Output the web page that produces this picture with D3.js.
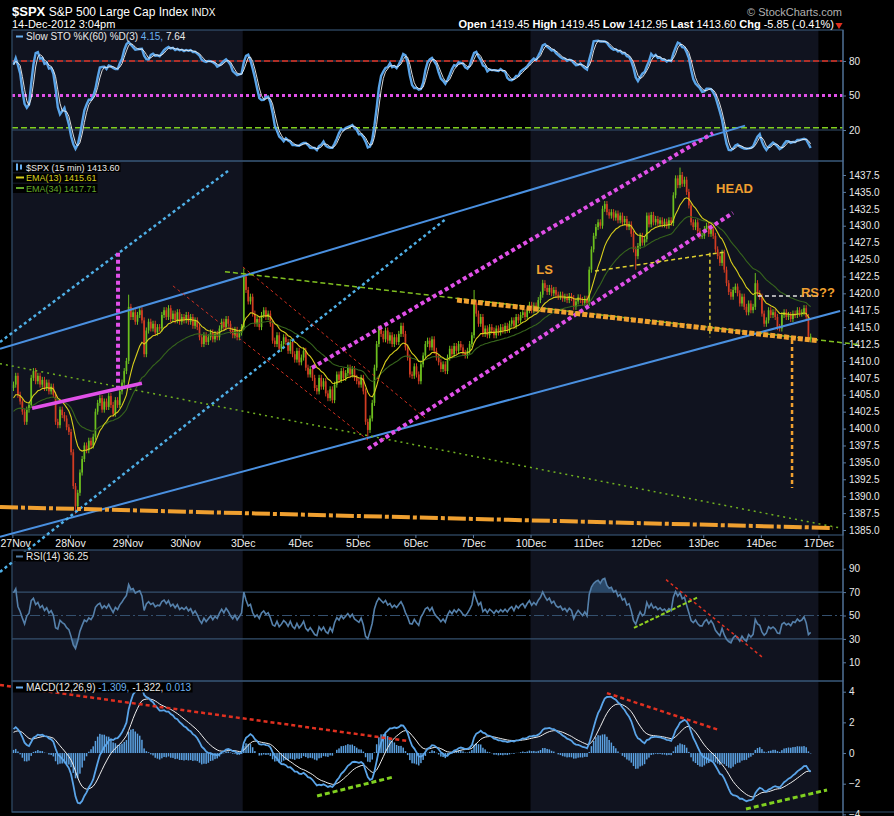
<!DOCTYPE html>
<html>
<head>
<meta charset="utf-8">
<script src="https://cdn.jsdelivr.net/npm/d3@7"></script>
<style>
  body { margin: 0; background: #000; }
  svg { display: block; font-family: "Liberation Sans", Arial, sans-serif; }
</style>
</head>
<body>
<svg width="894" height="816"></svg>
<script>
// Sessions on the time axis (17Dec is only the last tick)
const dayLabels = ['27Nov', '28Nov', '29Nov', '30Nov', '3Dec', '4Dec', '5Dec', '6Dec', '7Dec',
    '10Dec', '11Dec', '12Dec', '13Dec', '14Dec', '17Dec'];
const barsPerDay = 26;
// weeks with the dark blue backdrop, as [first day, end day]
const shadedDays = [[0, 4], [9, 14]];

const nov27 = [1406.5, 1407.8, 1405.0, 1404.0, 1402.5, 1401.0, 1402.8, 1403.5, 1407.5, 1408.5, 1407.0, 1407.8, 1406.5,
    1407.2, 1406.0, 1406.8, 1405.5, 1406.2, 1405.0, 1401.0, 1400.5, 1402.8, 1402.0, 1401.5, 1400.2, 1399.5];
const nov28 = [1396.5, 1391.5, 1388.5, 1390.5, 1393.5, 1395.5, 1397.5, 1396.8, 1398.2, 1397.5, 1398.8, 1402.5, 1403.8,
    1404.5, 1402.8, 1404.0, 1403.2, 1404.8, 1403.5, 1402.2, 1404.2, 1403.5, 1405.5, 1406.8, 1408.5, 1410.0];
const nov29 = [1418.0, 1416.5, 1417.2, 1415.8, 1416.8, 1417.5, 1416.0, 1411.0, 1414.5, 1415.8, 1414.8, 1415.5, 1414.2,
    1415.0, 1414.8, 1416.8, 1417.5, 1416.5, 1417.8, 1416.2, 1417.0, 1416.0, 1417.2, 1415.8, 1416.5, 1416.0];
const nov30 = [1416.8, 1415.8, 1416.5, 1415.2, 1416.0, 1415.0, 1413.5, 1412.5, 1413.8, 1412.8, 1413.5, 1414.2, 1413.2,
    1414.0, 1413.5, 1414.8, 1415.8, 1415.0, 1416.2, 1415.5, 1414.5, 1413.8, 1414.6, 1413.5, 1414.2, 1415.0];
const dec3 = [1422.5, 1420.5, 1418.8, 1419.5, 1417.0, 1415.5, 1416.2, 1415.0, 1416.8, 1417.5, 1416.5, 1417.0, 1415.5,
    1413.0, 1412.5, 1413.8, 1411.8, 1412.5, 1413.5, 1412.8, 1411.5, 1412.8, 1411.0, 1410.2, 1411.5, 1409.8];
const dec4 = [1410.5, 1411.5, 1409.0, 1408.0, 1408.8, 1407.5, 1406.0, 1405.5, 1407.5, 1406.2, 1407.0, 1405.2, 1404.5,
    1405.8, 1404.2, 1406.5, 1408.0, 1407.2, 1408.5, 1407.5, 1408.2, 1409.0, 1408.0, 1408.8, 1407.5, 1407.0];
const dec5 = [1406.5, 1407.5, 1405.5, 1401.0, 1399.8, 1401.5, 1403.8, 1409.0, 1412.5, 1414.8, 1414.0, 1413.2, 1414.5,
    1413.0, 1413.8, 1412.5, 1413.5, 1412.8, 1414.0, 1415.2, 1414.0, 1412.0, 1410.5, 1408.0, 1407.8, 1409.2];
const dec6 = [1408.0, 1407.0, 1409.5, 1410.8, 1412.5, 1413.0, 1412.0, 1413.2, 1411.5, 1410.5, 1409.8, 1408.8, 1409.5,
    1408.5, 1410.5, 1411.8, 1411.0, 1412.2, 1411.5, 1412.5, 1412.0, 1411.2, 1410.8, 1411.5, 1412.5, 1413.8];
const dec7 = [1418.5, 1417.0, 1415.5, 1416.5, 1414.0, 1414.8, 1413.8, 1415.0, 1414.5, 1413.8, 1414.8, 1414.2, 1415.0,
    1414.5, 1415.2, 1414.6, 1415.5, 1416.0, 1415.2, 1416.5, 1416.0, 1416.8, 1417.2, 1416.5, 1417.5, 1418.3];
const dec10 = [1417.5, 1418.2, 1417.8, 1419.0, 1419.8, 1421.5, 1420.8, 1420.2, 1420.8, 1420.0, 1420.5, 1419.8, 1419.5,
    1419.8, 1419.2, 1419.5, 1419.0, 1419.6, 1419.3, 1418.0, 1418.8, 1419.4, 1419.0, 1418.6, 1419.2, 1418.6];
const dec11 = [1423.5, 1426.5, 1428.5, 1429.8, 1430.5, 1430.0, 1432.5, 1433.2, 1432.0, 1431.5, 1432.0, 1431.2, 1431.8,
    1430.8, 1431.5, 1430.5, 1431.0, 1429.8, 1430.2, 1428.8, 1426.5, 1425.5, 1427.0, 1428.5, 1427.5, 1428.0];
const dec12 = [1431.5, 1430.2, 1431.6, 1430.5, 1431.0, 1430.3, 1430.8, 1430.2, 1430.6, 1430.0, 1430.8, 1430.4, 1434.5,
    1437.0, 1436.0, 1437.5, 1436.2, 1436.8, 1435.0, 1433.0, 1430.5, 1429.8, 1430.5, 1429.2, 1428.5, 1428.5];
const dec13 = [1429.5, 1430.0, 1428.8, 1429.5, 1428.5, 1426.5, 1425.5, 1424.5, 1426.0, 1423.5, 1421.5, 1420.2, 1419.5,
    1420.5, 1421.0, 1420.0, 1418.5, 1419.5, 1418.0, 1417.2, 1418.5, 1417.5, 1418.0, 1421.5, 1420.0, 1419.5];
const dec14 = [1417.0, 1415.5, 1416.0, 1417.5, 1416.8, 1417.2, 1416.5, 1415.0, 1414.8, 1416.8, 1417.2, 1416.5, 1416.8,
    1416.2, 1417.0, 1416.8, 1417.5, 1417.0, 1417.2, 1417.8, 1416.5, 1413.2, 1413.6];
const sessions = [nov27, nov28, nov29, nov30, dec3, dec4, dec5, dec6, dec7, dec10, dec11, dec12, dec13, dec14];
const firstOpen = 1406.0;
// long wicks that stand out, [bar, price]
const highMarks = [[52, 1419.8], [104, 1423.7], [208, 1420.5], [239, 1422.0], [301, 1438.6], [335, 1423.0]];
const lowMarks = [[28, 1387.4], [160, 1398.8], [281, 1423.5], [359, 1412.95]];

// indicator values carried in from before the first bar (left edge of each panel)
const ema13Start = 1404.2, ema34Start = 1402.3;
const ema12Start = 1404.4, ema26Start = 1402.9, signalStart = 1.3;
const rsiGainStart = 0.55, rsiLossStart = 0.26;
const stoHighBefore = 1409.2, stoLowBefore = 1397.5;

// tick labels
const priceTicks = [1385, 1387.5, 1390, 1392.5, 1395, 1397.5, 1400, 1402.5, 1405, 1407.5, 1410, 1412.5, 1415,
    1417.5, 1420, 1422.5, 1425, 1427.5, 1430, 1432.5, 1435, 1437.5];
const stoTicks = [80, 50, 20];
const rsiTicks = [90, 70, 50, 30, 10];
const macdTicks = [4, 2, 0, -2, -4];

// legend and header texts as printed on the chart
const quote = [['Open', '1419.45'], ['High', '1419.45'], ['Low', '1412.95'], ['Last', '1413.60'], ['Chg', '-5.85 (-0.41%)']];
const stoLegend = ['4.15,', '7.64'];
const priceLegend = ['$SPX (15 min) 1413.60', 'EMA(13) 1415.61', 'EMA(34) 1417.71'];
const rsiLegend = 'RSI(14) 36.25';
const macdLegend = ['-1.309,', '-1.322,', '0.013'];

// drawn trendlines, [style, [bar, value], [bar, value]]
const priceMarks = [
    ['channel', [-5.6, 1411.8], [330.9, 1444.8]],
    ['channel', [-5.6, 1384.0], [373.8, 1417.4]],
    ['cyanDot', [-5.6, 1412.8], [97.4, 1438.1]],
    ['cyanDot', [-5.6, 1378.8], [195.4, 1430.9]],
    ['redThin', [72.5, 1421.1], [160.6, 1398.3]],
    ['redThin', [104.1, 1423.9], [186.3, 1401.6]],
    ['greenDot', [-5.6, 1409.6], [373.8, 1385.3]],
    ['greenDash', [96.0, 1423.2], [382.8, 1412.4]],
    ['magentaDot', [47.7, 1426.0], [47.7, 1406.0]],
    ['magenta', [8.9, 1403.0], [58.5, 1406.7]],
    ['magentaDot', [135.3, 1409.0], [316.4, 1443.7]],
    ['magentaDot', [160.6, 1397.0], [325.4, 1431.9]],
    ['neck', [200.8, 1419.0], [363.8, 1413.0]],
    ['orangeDot', [352.1, 1413.1], [352.1, 1391.2]],
    ['orangeDashDot', [-5.6, 1388.4], [370.6, 1385.3]],
    ['yellowDash', [263.1, 1423.3], [321.8, 1426.1]],
    ['yellowDash', [315.0, 1426.0], [315.0, 1413.5]],
    ['whiteDash', [336.7, 1419.6], [363.8, 1419.6]]
];
const rsiMarks = [
    ['limeThin', [280.7, 39.4], [309.2, 65.2]],
    ['redThinDash', [295.2, 80.6], [338.6, 14.5]]
];
const macdMarks = [
    ['redDash', [-5.6, 4.44], [178.7, 0.78]],
    ['redDash', [268.5, 3.91], [319.1, 1.5]],
    ['limeDash', [137.6, -2.80], [171.9, -1.57]],
    ['limeDash', [331.3, -3.65], [367.9, -2.41]]
];
const patternLabels = [['LS', 236.6, 1422.9], ['HEAD', 317.8, 1434.8], ['RS??', 356.1, 1419.5]];
// user level lines on the stochastic
const stoLevels = [['redDash80', 80], ['magentaLevel', 50], ['greenLevel', 22]];

const lineStyles = {
    channel: ['#4a90e0', 2, null],
    cyanDot: ['#4fb0e8', 2.5, '3,3'],
    magentaDot: ['#e050e8', 4, '4,3'],
    magenta: ['#e050e8', 3.5, null],
    redThin: ['#d03020', 1, '3,3'],
    greenDot: ['#70b020', 1.5, '2,4'],
    greenDash: ['#80c020', 1.5, '5,3'],
    neck: ['#f0a030', 5, '5,2'],
    orangeDot: ['#f0a030', 2.5, '4,3'],
    orangeDashDot: ['#f0a030', 4, '18,3,4,3'],
    yellowDash: ['#e0d030', 1.5, '4,3'],
    whiteDash: ['#e0e0e0', 1.5, '4,3'],
    redDash: ['#e03020', 2.5, '4,3'],
    limeDash: ['#80d020', 3, '5,3'],
    redThinDash: ['#e03020', 1.5, '3,3'],
    limeThin: ['#90d020', 2, '4,2'],
    redDash80: ['#e03020', 1.5, '6,3'],
    magentaLevel: ['#e050e8', 3, '3,3'],
    greenLevel: ['#80d020', 1.5, '6,3']
};

//Select svg element that is our canvas
const svg = d3.select('svg');
const width = +svg.attr('width');
const height = +svg.attr('height');

const left = 12, right = 843;
const stoTop = 30, priceTop = 161, priceBottom = 535, rsiTop = 550, macdTop = 681, macdBottom = 812;
const frameColor = '#34506e';

svg.append('rect').attr('width', width).attr('height', height).attr('fill', '#000');

// scales
const x = d3.scaleLinear().domain([0, (dayLabels.length - 1) * barsPerDay]).range([12.4, 818.4]);
const yPrice = d3.scaleLinear().domain([1385, 1437.5]).range([530, 175]);
const ySto = d3.scaleLinear().domain([20, 80]).range([130, 61]);
const yRsi = d3.scaleLinear().domain([10, 90]).range([662.3, 568.7]);
const yMacd = d3.scaleLinear().domain([-2, 4]).range([783.7, 691.7]);

// bars
const closes = sessions.flat();
const bars = closes.map((c, i) => {
    const o = i ? closes[i - 1] : firstOpen;
    return {i, o, c, h: Math.max(o, c) + 0.45, l: Math.min(o, c) - 0.45};
});
highMarks.forEach(([i, v]) => bars[i].h = v);
lowMarks.forEach(([i, v]) => bars[i].l = v);

// indicators
function ema(values, period, start) {
    const k = 2 / (period + 1);
    let prev = start;
    return values.map(v => prev = prev + k * (v - prev));
}
const ema13 = ema(closes, 13, ema13Start);
const ema34 = ema(closes, 34, ema34Start);
const macd = d3.zip(ema(closes, 12, ema12Start), ema(closes, 26, ema26Start)).map(([a, b]) => a - b);
const signal = ema(macd, 9, signalStart);
const hist = macd.map((m, i) => m - signal[i]);

let avgGain = rsiGainStart, avgLoss = rsiLossStart;
const rsi = bars.map(b => {
    const ch = b.c - b.o;
    avgGain = (avgGain * 13 + Math.max(ch, 0)) / 14;
    avgLoss = (avgLoss * 13 + Math.max(-ch, 0)) / 14;
    return 100 - 100 / (1 + avgGain / avgLoss);
});

const fastK = bars.map((b, i) => {
    let hh = i < 59 ? stoHighBefore : -Infinity;
    let ll = i < 59 ? stoLowBefore : Infinity;
    for (let j = Math.max(0, i - 59); j <= i; j++) {
        hh = Math.max(hh, bars[j].h);
        ll = Math.min(ll, bars[j].l);
    }
    return 100 * (b.c - ll) / (hh - ll);
});
const sma3 = a => a.map((v, i) => d3.mean(a.slice(Math.max(0, i - 2), i + 1)));
const slowK = sma3(fastK);
const pctD = sma3(slowK);

// week backdrops
const bandG = svg.append('g');
shadedDays.forEach(([a, b]) => {
    [[stoTop, priceBottom], [rsiTop, macdBottom]].forEach(([t, bt]) => {
        bandG.append('rect')
            .attr('x', Math.max(left, x(a * barsPerDay)))
            .attr('width', x(b * barsPerDay) - Math.max(left, x(a * barsPerDay)))
            .attr('y', t).attr('height', bt - t)
            .attr('fill', '#10131f');
    });
});

// clip paths for each panel
const defs = svg.append('defs');
const panels = {sto: [stoTop, priceTop], price: [priceTop, priceBottom], rsi: [rsiTop, macdTop], macd: [macdTop, macdBottom]};
Object.entries(panels).forEach(([k, [t, b]]) => {
    defs.append('clipPath').attr('id', 'clip-' + k)
        .append('rect').attr('x', left).attr('y', t).attr('width', right - left).attr('height', b - t);
});
const plot = k => svg.append('g').attr('clip-path', `url(#clip-${k})`);

// grid lines
const gridG = svg.append('g');
[ySto(80), ySto(20), yRsi(70), yRsi(30)].forEach(y => {
    gridG.append('line').attr('x1', left).attr('x2', right).attr('y1', y).attr('y2', y)
        .attr('stroke', frameColor).attr('stroke-width', 1.2);
});
gridG.append('line').attr('x1', left).attr('x2', right).attr('y1', yRsi(50)).attr('y2', yRsi(50))
    .attr('stroke', frameColor).attr('stroke-dasharray', '10,3,2,3');

function styled(sel, name) {
    const [stroke, w, dash] = lineStyles[name];
    sel.attr('stroke', stroke).attr('stroke-width', w).attr('fill', 'none');
    if (dash) sel.attr('stroke-dasharray', dash);
    return sel;
}

stoLevels.forEach(([name, v]) => {
    styled(gridG.append('line').attr('x1', left).attr('x2', right).attr('y1', ySto(v)).attr('y2', ySto(v)), name);
});

// stochastic
const stoG = plot('sto');
const lineOf = (vals, y) => d3.line().x((d, i) => x(i + 0.5)).y(d => y(d))(vals);
stoG.append('path').attr('d', lineOf(slowK, ySto)).attr('fill', 'none').attr('stroke', '#5aa4e8').attr('stroke-width', 2.4);
stoG.append('path').attr('d', lineOf(pctD, ySto)).attr('fill', 'none').attr('stroke', '#f0f0f0').attr('stroke-width', 0.9);

// candles
const priceG = plot('price');
const up = '#6cbf1e', down = '#d23c22';
const candle = priceG.selectAll('g.candle').data(bars).join('g').attr('class', 'candle');
candle.append('line')
    .attr('x1', d => x(d.i + 0.5)).attr('x2', d => x(d.i + 0.5))
    .attr('y1', d => yPrice(d.h)).attr('y2', d => yPrice(d.l))
    .attr('stroke', d => d.c >= d.o ? up : down).attr('stroke-width', 1);
candle.append('rect')
    .attr('x', d => x(d.i + 0.5) - 0.85).attr('width', 1.7)
    .attr('y', d => yPrice(Math.max(d.o, d.c)))
    .attr('height', d => Math.max(0.8, Math.abs(yPrice(d.o) - yPrice(d.c))))
    .attr('fill', d => d.c >= d.o ? up : down);

priceG.append('path').attr('d', lineOf(ema34, yPrice)).attr('fill', 'none').attr('stroke', '#36641c').attr('stroke-width', 1.1);
priceG.append('path').attr('d', lineOf(ema13, yPrice)).attr('fill', 'none').attr('stroke', '#d8cf1c').attr('stroke-width', 1.1);

// rsi
const rsiG = plot('rsi');
const fillArea = (lvl, above) => d3.area()
    .x((d, i) => x(i + 0.5))
    .y0(yRsi(lvl))
    .y1(d => yRsi(above ? Math.max(d, lvl) : Math.min(d, lvl)))(rsi);
rsiG.append('path').attr('d', fillArea(70, true)).attr('fill', '#2a4868');
rsiG.append('path').attr('d', fillArea(30, false)).attr('fill', '#2a4868');
rsiG.append('path').attr('d', lineOf(rsi, yRsi)).attr('fill', 'none').attr('stroke', '#5580aa').attr('stroke-width', 1.6);

// macd
const macdG = plot('macd');
macdG.selectAll('rect.h').data(hist).join('rect').attr('class', 'h')
    .attr('x', (d, i) => x(i + 0.5) - 0.75).attr('width', 1.5)
    .attr('y', d => Math.min(yMacd(0), yMacd(d)))
    .attr('height', d => Math.abs(yMacd(d) - yMacd(0)))
    .attr('fill', '#5aa0e0');
macdG.append('path').attr('d', lineOf(signal, yMacd)).attr('fill', 'none').attr('stroke', '#eeeeee').attr('stroke-width', 1);
macdG.append('path').attr('d', lineOf(macd, yMacd)).attr('fill', 'none').attr('stroke', '#5aa4e8').attr('stroke-width', 1.8);

// panel frames
const frameG = svg.append('g');
[[stoTop, priceTop], [priceTop, priceBottom], [rsiTop, macdTop], [macdTop, macdBottom]].forEach(([t, b]) => {
    frameG.append('rect').attr('x', left).attr('y', t).attr('width', right - left).attr('height', b - t)
        .attr('fill', 'none').attr('stroke', frameColor).attr('stroke-width', 1.2);
});
frameG.append('line').attr('x1', left).attr('x2', width).attr('y1', macdBottom).attr('y2', macdBottom)
    .attr('stroke', frameColor);

// axes
function rightAxis(scale, ticks, fmt) {
    const g = svg.append('g').attr('transform', `translate(${right},0)`)
        .call(d3.axisRight(scale).tickValues(ticks).tickSize(3).tickPadding(3).tickFormat(fmt));
    g.select('.domain').remove();
    g.selectAll('line').attr('stroke', '#5a7aa0');
    g.selectAll('text').attr('fill', '#e8e8e8').style('font-size', '10px')
        .style('font-family', '"Liberation Sans", Arial, sans-serif');
    return g;
}
rightAxis(ySto, stoTicks, d3.format('d'));
rightAxis(yPrice, priceTicks, d3.format('.1f'));
rightAxis(yRsi, rsiTicks, d3.format('d'));
rightAxis(yMacd, macdTicks, d3.format('d'));
svg.append('line').attr('x1', right).attr('x2', right).attr('y1', stoTop).attr('y2', height)
    .attr('stroke', '#5a7aa0');

const xAxis = svg.append('g').attr('transform', `translate(0,${priceBottom})`)
    .call(d3.axisBottom(x).tickValues(dayLabels.map((d, i) => i * barsPerDay))
        .tickFormat((d, i) => dayLabels[i]).tickSize(3).tickPadding(2));
xAxis.select('.domain').remove();
xAxis.selectAll('line').attr('stroke', '#5a7aa0');
xAxis.selectAll('text').attr('fill', '#f0f0f0').style('font-size', '10.5px')
    .style('font-family', '"Liberation Sans", Arial, sans-serif');
// first label sits against the left edge of the picture
xAxis.select('.tick text').attr('text-anchor', 'start').attr('x', -x(0));

// hand drawn trendlines, on top of everything
const markG = svg.append('g');
function drawMarks(marks, y) {
    marks.forEach(([name, a, b]) => {
        styled(markG.append('line')
            .attr('x1', x(a[0])).attr('y1', y(a[1]))
            .attr('x2', x(b[0])).attr('y2', y(b[1])), name);
    });
}
drawMarks(priceMarks, yPrice);
drawMarks(rsiMarks, yRsi);
drawMarks(macdMarks, yMacd);

markG.selectAll('text.pattern').data(patternLabels).join('text').attr('class', 'pattern')
    .attr('x', d => x(d[1])).attr('y', d => yPrice(d[2]))
    .attr('fill', '#f0a030').attr('font-weight', 'bold').attr('font-size', 13)
    .text(d => d[0]);

// legends
const legendG = svg.append('g').style('font-size', '10px');
function legendLine(y, parts, boxed, size) {
    const t = legendG.append('text').attr('x', 26).attr('y', y);
    if (size) t.style('font-size', size + 'px');
    parts.forEach(([txt, col]) => t.append('tspan').attr('fill', col).text(txt));
    if (boxed) {
        const bb = t.node().getBBox();
        legendG.insert('rect', 'text').attr('x', 13).attr('y', bb.y + 0.5)
            .attr('width', bb.x + bb.width - 12).attr('height', bb.height - 1).attr('fill', '#000');
    }
    return t;
}
legendLine(40, [['Slow STO %K(60) %D(3) ', '#e8e8e8'], [stoLegend[0] + ' ', '#6ab0f0'], [stoLegend[1], '#e8e8e8']], false);
legendG.append('line').attr('x1', 16).attr('x2', 23).attr('y1', 36.5).attr('y2', 36.5).attr('stroke', '#6ab0f0').attr('stroke-width', 2);

legendLine(170.5, [[priceLegend[0], '#e8e8e8']], true, 9);
legendLine(181, [[priceLegend[1], '#d8cf1c']], true, 9);
legendLine(191.5, [[priceLegend[2], '#62a82a']], true, 9);
legendG.append('rect').attr('x', 16).attr('y', 163.5).attr('width', 2).attr('height', 7).attr('fill', '#6ab0f0');
legendG.append('rect').attr('x', 20).attr('y', 164.5).attr('width', 2).attr('height', 5).attr('fill', '#6ab0f0');
legendG.append('line').attr('x1', 16).attr('x2', 24).attr('y1', 177.5).attr('y2', 177.5).attr('stroke', '#d8cf1c').attr('stroke-width', 2);
legendG.append('line').attr('x1', 16).attr('x2', 24).attr('y1', 188).attr('y2', 188).attr('stroke', '#62a82a').attr('stroke-width', 2);

legendLine(560, [[rsiLegend, '#e8e8e8']], true);
legendG.append('line').attr('x1', 16).attr('x2', 23).attr('y1', 556.5).attr('y2', 556.5).attr('stroke', '#5580aa').attr('stroke-width', 2);

legendLine(691, [['MACD(12,26,9) ', '#e8e8e8'], [macdLegend[0] + ' ', '#6ab0f0'], [macdLegend[1] + ' ', '#e8e8e8'], [macdLegend[2], '#6ab0f0']], true);
legendG.append('line').attr('x1', 16).attr('x2', 23).attr('y1', 687.5).attr('y2', 687.5).attr('stroke', '#6ab0f0').attr('stroke-width', 2);
legendLine(824, [['PPO(12,26,9) 1.447, 1.440, 0.007', '#e8e8e8']], false);

// header
const head = svg.append('g').attr('fill', '#fff');
const title = head.append('text').attr('x', 12).attr('y', 16);
title.append('tspan').attr('font-weight', 'bold').attr('font-size', 13).text('$SPX ');
title.append('tspan').attr('font-size', 12).text('S&P 500 Large Cap Index ');
title.append('tspan').attr('font-size', 10).text('INDX');
head.append('text').attr('x', 12).attr('y', 28).attr('font-size', 11).text('14-Dec-2012 3:04pm');
head.append('text').attr('x', right - 1).attr('y', 16).attr('text-anchor', 'end')
    .attr('font-size', 11).attr('fill', '#b0b0b0').text('© StockCharts.com');
const q = head.append('text').attr('x', right - 9).attr('y', 28).attr('text-anchor', 'end').attr('font-size', 11);
quote.forEach(([k, v]) => {
    q.append('tspan').attr('font-weight', 'bold').text(k + ' ');
    q.append('tspan').text(v + '  ');
});
head.append('path').attr('d', d3.symbol(d3.symbolTriangle, 22)()).attr('fill', '#e03020')
    .attr('transform', `translate(${right - 4},25) rotate(180)`);
</script>
</body>
</html>
